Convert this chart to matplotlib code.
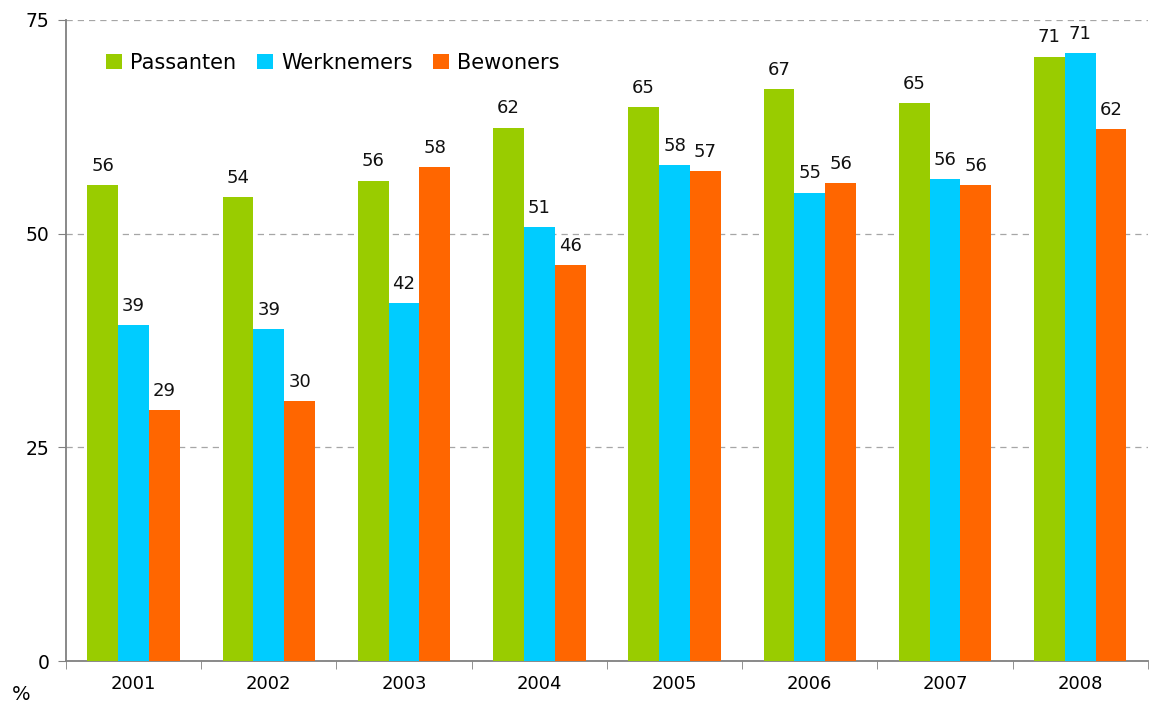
import matplotlib.pyplot as plt
import numpy as np

years = ['2001', '2002', '2003', '2004', '2005', '2006', '2007', '2008']
passanten = [55.7, 54.3, 56.2, 62.4, 64.8, 66.9, 65.3, 70.7]
werknemers = [39.3, 38.8, 41.9, 50.8, 58.0, 54.8, 56.4, 71.1]
bewoners = [29.4, 30.4, 57.8, 46.3, 57.3, 55.9, 55.7, 62.2]

series = [('Passanten', passanten, '#99CC00'),
          ('Werknemers', werknemers, '#00CCFF'),
          ('Bewoners', bewoners, '#FF6600')]

plt.rcParams['font.family'] = ['DejaVu Sans']
fig = plt.figure(figsize=(11.49, 7.04), dpi=100)
ax = fig.add_axes([0.0574, 0.061, 0.9416, 0.9106])

x = np.arange(len(years))
width = 0.228
for i, (name, vals, color) in enumerate(series):
    pos = x + (i - 1) * width
    ax.bar(pos, vals, width, color=color, label=name, zorder=3)
    for px, v in zip(pos, vals):
        ax.text(px, v + 1.2, str(int(round(v))), ha='center', va='bottom',
                fontsize=13, color='#111111')

ax.set_xlim(-0.5, len(years) - 0.5)
ax.set_ylim(0, 75)
ax.set_yticks([0, 25, 50, 75])
ax.tick_params(axis='y', labelsize=13.5, length=6, color='#808080', pad=6)
ax.set_xticks(x)
ax.set_xticklabels(years, fontsize=13)
ax.tick_params(axis='x', length=0, pad=10)
ax.set_xticks(np.arange(-0.5, len(years), 1), minor=True)
ax.tick_params(axis='x', which='minor', length=6, color='#808080')

ax.yaxis.grid(True, linestyle=(0, (5, 4)), color='#A6A6A6', linewidth=0.9, zorder=0)
for s in ['top', 'right']:
    ax.spines[s].set_visible(False)
for s in ['left', 'bottom']:
    ax.spines[s].set_color('#808080')
    ax.spines[s].set_linewidth(1.3)

ax.legend(loc='upper left', bbox_to_anchor=(0.037, 0.949), ncol=3, frameon=False,
          fontsize=15, handlelength=0.75, handleheight=0.75, handletextpad=0.4,
          columnspacing=1.0, borderpad=0, borderaxespad=0)

fig.text(0.01, 0.005, '%', fontsize=14)

fig.savefig('out.png', dpi=100)
